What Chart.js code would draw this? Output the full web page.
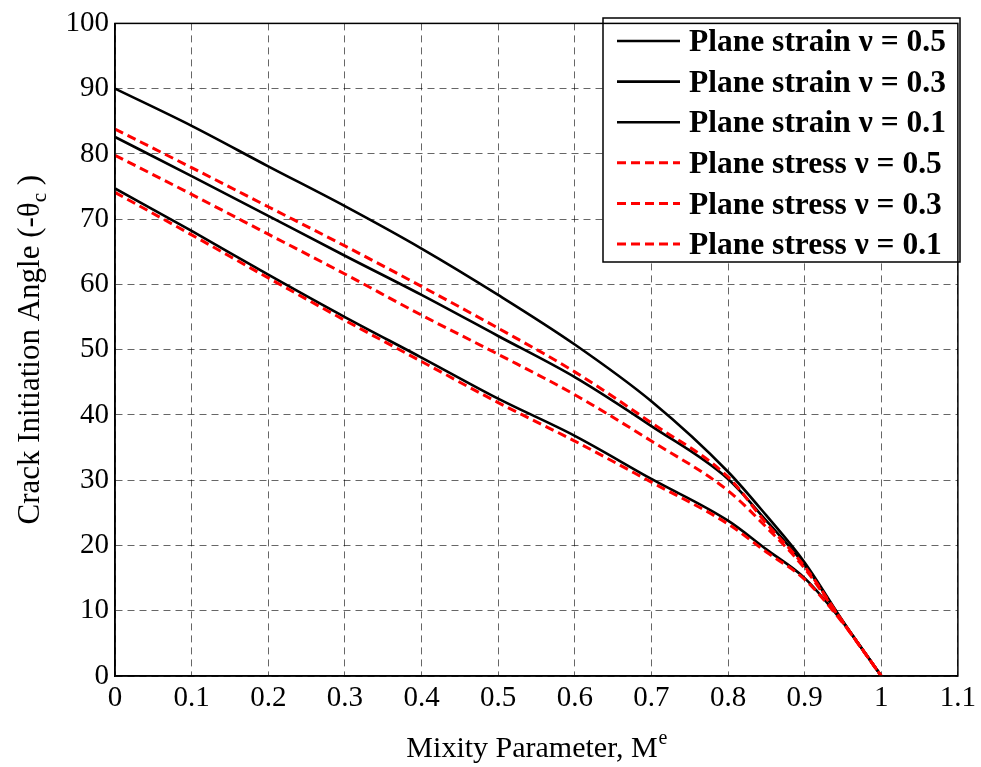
<!DOCTYPE html>
<html>
<head>
<meta charset="utf-8">
<script src="https://cdn.jsdelivr.net/npm/chart.js@4.4.1/dist/chart.umd.min.js"></script>
<style>
  body { margin: 0; background: #fff; }
</style>
</head>
<body>
<canvas id="myChart" width="981" height="767"></canvas>
<script>
// mixity parameter values where each curve was sampled
const mixity = [0, 0.1, 0.2, 0.3, 0.4, 0.5, 0.6, 0.7, 0.8, 0.85, 0.9, 0.95, 1.0];

// crack initiation angle (-theta_c), degrees
const strainNu05 = [90.0, 84.3, 78.1, 72.0, 65.5, 58.4, 50.8, 42.1, 31.3, 24.6, 17.4, 8.4, 0];
const strainNu03 = [82.6, 76.6, 70.5, 64.4, 58.4, 52.1, 45.8, 38.3, 30.2, 23.8, 17.0, 8.3, 0];
const strainNu01 = [74.7, 68.2, 61.5, 55.0, 48.8, 42.5, 36.8, 30.2, 23.8, 19.4, 15.0, 8.2, 0];
const stressNu05 = [83.8, 77.9, 71.9, 65.9, 59.7, 53.3, 46.6, 38.8, 30.5, 23.4, 16.8, 8.3, 0];
const stressNu03 = [79.8, 73.8, 67.7, 61.6, 55.3, 49.3, 43.1, 36.0, 28.4, 22.8, 16.5, 8.2, 0];
const stressNu01 = [74.1, 67.6, 61.0, 54.5, 48.2, 41.9, 36.0, 29.7, 23.3, 19.0, 14.8, 8.1, 0];

const seriesLabels = [
  "Plane strain ν = 0.5", "Plane strain ν = 0.3", "Plane strain ν = 0.1",
  "Plane stress ν = 0.5", "Plane stress ν = 0.3", "Plane stress ν = 0.1"
];

const xTicks = [0, 0.1, 0.2, 0.3, 0.4, 0.5, 0.6, 0.7, 0.8, 0.9, 1, 1.1];
const xTickLabels = ["0", "0.1", "0.2", "0.3", "0.4", "0.5", "0.6", "0.7", "0.8", "0.9", "1", "1.1"];
const yTicks = [0, 10, 20, 30, 40, 50, 60, 70, 80, 90, 100];

const serif = "'Liberation Serif', 'Times New Roman', serif";

function points(values) {
  return mixity.map((m, i) => ({ x: m, y: values[i] }));
}

function solid(label, values) {
  return {
    label: label,
    data: points(values),
    borderColor: "#000",
    borderWidth: 2.6,
    pointRadius: 0,
    cubicInterpolationMode: "monotone",
    fill: false,
    order: 1,
  };
}

function dashed(label, values) {
  return {
    label: label,
    data: points(values),
    borderColor: "#ff0000",
    borderWidth: 3,
    borderDash: [9, 5],
    pointRadius: 0,
    cubicInterpolationMode: "monotone",
    fill: false,
    order: 0,
  };
}

// legend box drawn inside the plot, top right
const boxLegend = {
  id: "boxLegend",
  afterDraw(chart) {
    const ctx = chart.ctx;
    const left = 603, top = 18, right = 960, bottom = 262;
    ctx.save();
    ctx.fillStyle = "#fff";
    ctx.fillRect(left, top, right - left, bottom - top);
    ctx.strokeStyle = "#000";
    ctx.lineWidth = 1.5;
    ctx.strokeRect(left, top, right - left, bottom - top);
    ctx.font = "bold 31.5px " + serif;
    ctx.textBaseline = "middle";
    ctx.fillStyle = "#000";
    chart.data.datasets.forEach((ds, i) => {
      const y = 41 + i * 40.6;
      ctx.beginPath();
      ctx.strokeStyle = ds.borderColor;
      ctx.lineWidth = ds.borderWidth;
      ctx.setLineDash(ds.borderDash || []);
      ctx.moveTo(617, y);
      ctx.lineTo(680, y);
      ctx.stroke();
      ctx.setLineDash([]);
      ctx.fillText(ds.label, 689, y + 2);
    });
    ctx.restore();
  }
};

// full axes box plus the axis titles with sub/superscripts
const axesFrame = {
  id: "axesFrame",
  afterDraw(chart) {
    const ctx = chart.ctx;
    const a = chart.chartArea;
    ctx.save();
    ctx.strokeStyle = "#000";
    ctx.lineWidth = 1.5;
    ctx.strokeRect(a.left, a.top, a.right - a.left, a.bottom - a.top);

    ctx.fillStyle = "#000";
    ctx.textBaseline = "alphabetic";

    // x title: Mixity Parameter, M^e
    const xMain = "Mixity Parameter, M";
    ctx.font = "30px " + serif;
    const wMain = ctx.measureText(xMain).width;
    ctx.font = "20px " + serif;
    const wSup = ctx.measureText("e").width;
    let x0 = (a.left + a.right) / 2 - (wMain + wSup) / 2;
    ctx.font = "30px " + serif;
    ctx.fillText(xMain, x0, 757);
    ctx.font = "20px " + serif;
    ctx.fillText("e", x0 + wMain + 1, 744);

    // y title: Crack Initiation Angle (-θ_c )
    ctx.translate(39, (a.top + a.bottom) / 2);
    ctx.rotate(-Math.PI / 2);
    const yMain = "Crack Initiation Angle (-θ";
    const yEnd = " )";
    ctx.font = "31px " + serif;
    const w1 = ctx.measureText(yMain).width;
    const w3 = ctx.measureText(yEnd).width;
    ctx.font = "21px " + serif;
    const w2 = ctx.measureText("c").width;
    let s = -(w1 + w2 + w3) / 2;
    ctx.font = "31px " + serif;
    ctx.fillText(yMain, s, 0);
    ctx.font = "21px " + serif;
    ctx.fillText("c", s + w1, 7);
    ctx.font = "31px " + serif;
    ctx.fillText(yEnd, s + w1 + w2, 0);
    ctx.restore();
  }
};

const ctx = document.getElementById("myChart").getContext("2d");

const myChart = new Chart(ctx, {
  type: "line",
  data: {
    datasets: [
      solid(seriesLabels[0], strainNu05),
      solid(seriesLabels[1], strainNu03),
      solid(seriesLabels[2], strainNu01),
      dashed(seriesLabels[3], stressNu05),
      dashed(seriesLabels[4], stressNu03),
      dashed(seriesLabels[5], stressNu01),
    ],
  },
  options: {
    responsive: false,
    animation: false,
    devicePixelRatio: 1,
    layout: { padding: { left: 0, top: 21, right: 20, bottom: 0 } },
    plugins: {
      legend: { display: false },
      tooltip: { enabled: false },
    },
    scales: {
      x: {
        type: "linear",
        min: 0,
        max: 1.1,
        afterBuildTicks: (scale) => { scale.ticks = xTicks.map(v => ({ value: v })); },
        afterFit: (scale) => { scale.height = 91; },
        ticks: {
          autoSkip: false,
          maxRotation: 0,
          padding: 5,
          color: "#000",
          font: { family: serif, size: 29 },
          callback: (v) => xTickLabels[xTicks.findIndex(t => Math.abs(t - v) < 1e-6)],
        },
        grid: { color: "rgba(0,0,0,0.6)", lineWidth: 1, drawTicks: false },
        border: { color: "#000", width: 1.5, dash: [7, 5] },
      },
      y: {
        min: 0,
        max: 100,
        afterBuildTicks: (scale) => { scale.ticks = yTicks.map(v => ({ value: v })); },
        afterFit: (scale) => { scale.width = 115; },
        ticks: {
          padding: 6,
          color: "#000",
          font: { family: serif, size: 29 },
        },
        grid: { color: "rgba(0,0,0,0.6)", lineWidth: 1, drawTicks: false },
        border: { color: "#000", width: 1.5, dash: [7, 5] },
      },
    },
  },
  plugins: [boxLegend, axesFrame],
});
</script>
</body>
</html>
